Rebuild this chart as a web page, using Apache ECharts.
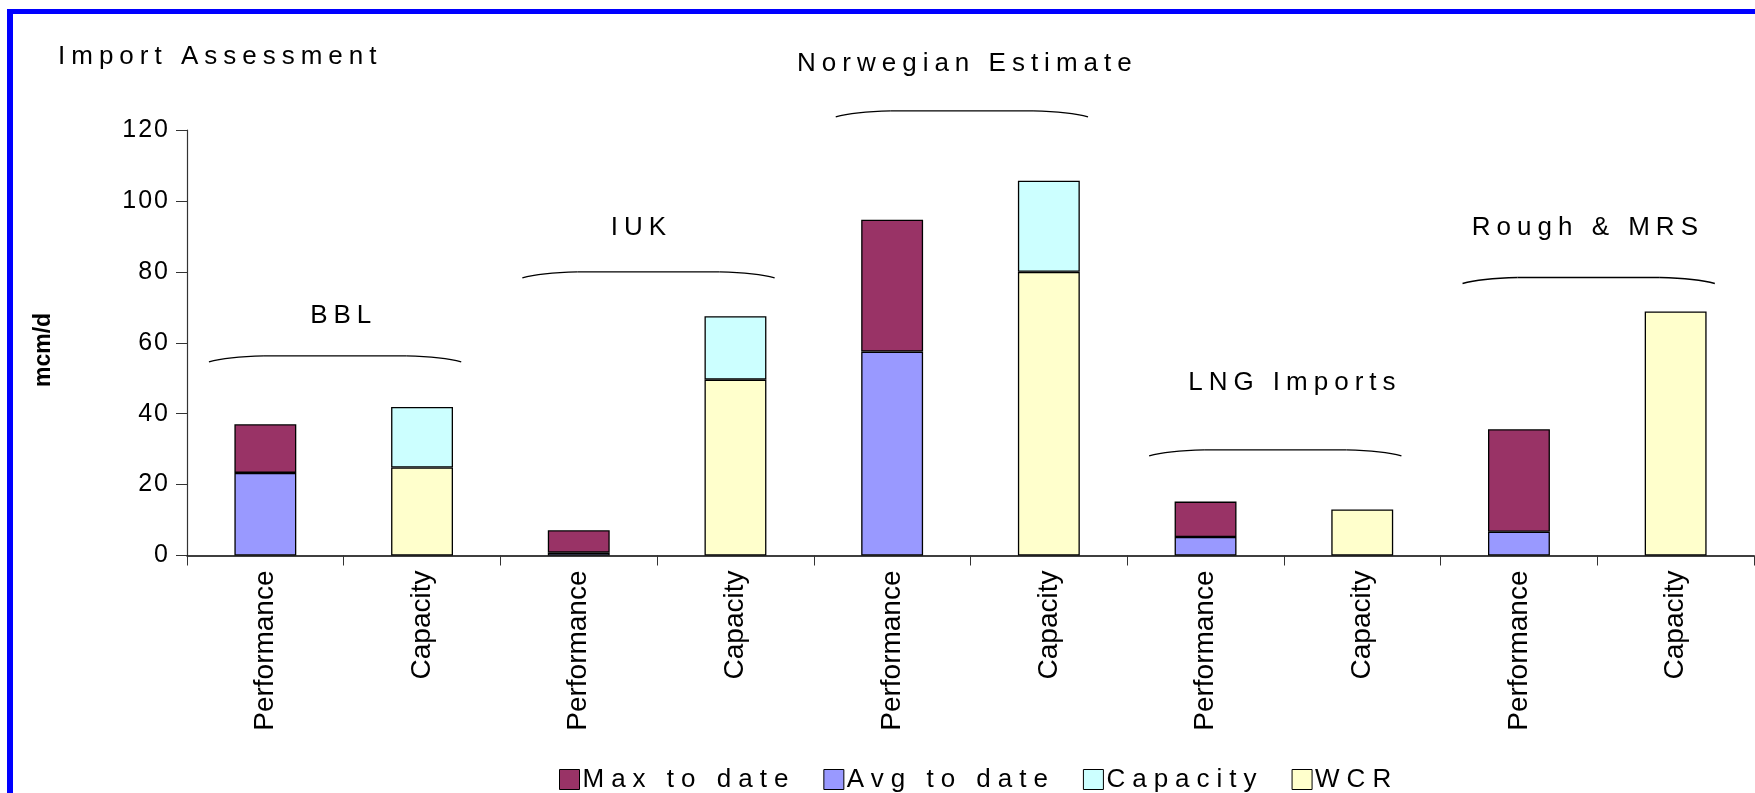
<!DOCTYPE html>
<html>
<head>
<meta charset="utf-8">
<script src="https://cdn.jsdelivr.net/npm/echarts@6/dist/echarts.min.js"></script>
<style>
html,body{margin:0;padding:0;background:#fff;}
#chart{width:1755px;height:793px;}
</style>
</head>
<body>
<div id="chart"></div>
<script>
// ---------- data ----------
const categories = ['Performance','Capacity','Performance','Capacity','Performance','Capacity','Performance','Capacity','Performance','Capacity'];
const groupNames = ['BBL','IUK','Norwegian Estimate','LNG Imports','Rough & MRS'];
const groupFirstCategory = [0, 2, 4, 6, 8];
// segment heights (mcm/d) as stacked in the picture
const avgToDate = [23.3, null, 0.8, null, 57.5, null, 5.2, null, 6.7, null];
const maxToDate = [13.7, null, 6.3, null, 37.2, null, 10.0, null, 28.9, null];
const wcr       = [null, 24.8, null, 49.6, null, 80.0, null, 13.0, null, 68.8];
const capacity  = [null, 17.1, null, 17.9, null, 25.7, null, null, null, null];
const yTicks = [0, 20, 40, 60, 80, 100, 120];
const legendNames = ['Max to date','Avg to date','Capacity','WCR'];

// annotation layout (value units on the y axis, category units for label shift)
const braceLevel = [56.3, 80.0, 125.4, 29.8, 78.4];
const labelLevel = [67.6, 92.3, 138.7, 48.7, 92.3];
const labelShift = [0, -0.1, -0.02, 0.07, -0.06];

// ---------- letter spacing via canvas (font family marker 'lsN') ----------
(function(){
  const proto = CanvasRenderingContext2D.prototype;
  if (!('letterSpacing' in proto)) return;
  const spacing = (ctx) => { const m = /ls(\d+)/.exec(ctx.font || ''); return m ? m[1] + 'px' : '0px'; };
  const f = proto.fillText, mt = proto.measureText;
  proto.fillText = function(){ const p = this.letterSpacing; this.letterSpacing = spacing(this); const r = f.apply(this, arguments); this.letterSpacing = p; return r; };
  proto.measureText = function(){ const p = this.letterSpacing; this.letterSpacing = spacing(this); const r = mt.apply(this, arguments); this.letterSpacing = p; return r; };
})();

const FAM = "'Liberation Sans', Arial, sans-serif";
const FAM_TITLE = "ls6, 'Liberation Sans', Arial, sans-serif";
const FAM_TICK = "ls2, 'Liberation Sans', Arial, sans-serif";
const FAM_GROUP = "ls6, 'Liberation Sans', Arial, sans-serif";
const FAM_LEG = "ls7, 'Liberation Sans', Arial, sans-serif";

const chart = echarts.init(document.getElementById('chart'), null, {renderer:'canvas'});

const barBase = {type:'bar', stack:'s', barWidth:'39.5%'};
const BW = 1.3;

const option = {
  animation:false,
  backgroundColor:'#fff',
  title:{text:'Import Assessment', left:53, top:36, textStyle:{fontSize:26, fontWeight:'normal', color:'#000', fontFamily:FAM_TITLE}},
  graphic:[
    {type:'rect', shape:{x:7, y:9, width:1760, height:5}, style:{fill:'#0000ff'}, silent:true},
    {type:'rect', shape:{x:7, y:9, width:6, height:790}, style:{fill:'#0000ff'}, silent:true},
    {type:'text', x:44, y:350, rotation:Math.PI/2, silent:true,
     style:{text:'mcm/d', font:"bold 23px " + FAM, fill:'#000', align:'center', verticalAlign:'middle'}}
  ],
  legend:{
    data:legendNames, left:554, top:758, icon:'rect', itemWidth:20, itemHeight:20, itemGap:28,
    itemStyle:{borderColor:'#000', borderWidth:1},
    textStyle:{fontSize:26, color:'#000', fontFamily:FAM_LEG, padding:[0,0,0,-2]}
  },
  grid:{left:187, right:1, top:130, bottom:237.5, containLabel:false},
  xAxis:{
    type:'category', data:categories,
    axisLine:{lineStyle:{color:'#000', width:1.5}},
    axisTick:{show:true, length:10, lineStyle:{color:'#333'}},
    axisLabel:{rotate:90, margin:15, fontSize:28, color:'#000', fontFamily:FAM, interval:0}
  },
  yAxis:{
    type:'value', min:yTicks[0], max:yTicks[yTicks.length-1], interval:20,
    axisLine:{show:true, lineStyle:{color:'#333', width:1.2}},
    axisTick:{show:true, length:11, lineStyle:{color:'#333'}},
    splitLine:{show:false},
    axisLabel:{fontSize:25, color:'#000', margin:17, fontFamily:FAM_TICK}
  },
  series:[
    Object.assign({}, barBase, {name:'Avg to date', data:avgToDate, itemStyle:{color:'#9999ff', borderColor:'#000', borderWidth:BW}}),
    Object.assign({}, barBase, {name:'WCR', data:wcr, itemStyle:{color:'#ffffcc', borderColor:'#000', borderWidth:BW}}),
    Object.assign({}, barBase, {name:'Max to date', data:maxToDate, itemStyle:{color:'#993366', borderColor:'#000', borderWidth:BW}}),
    Object.assign({}, barBase, {name:'Capacity', data:capacity, itemStyle:{color:'#ccffff', borderColor:'#000', borderWidth:BW}}),
    {
      type:'custom', name:'groups', silent:true, clip:false, z:5,
      encode:{x:0, y:1},
      data: groupFirstCategory.map((c, i) => [c, braceLevel[i], labelLevel[i]]),
      renderItem(params, api){
        const i = params.dataIndex;
        const c = api.value(0);
        const c0 = api.coord([c, 0])[0];
        const c1 = api.coord([c + 1, 0])[0];
        const bw = api.size([1, 0])[0];
        const yb = api.coord([c, api.value(1)])[1];
        const yl = api.coord([c, api.value(2)])[1];
        const x0 = c0 - 0.36 * bw, x1 = c1 + 0.25 * bw;
        const ls = {stroke:'#000', lineWidth:1.4, fill:null};
        return {type:'group', children:[
          {type:'bezierCurve', shape:{x1:x0, y1:yb+6, cpx1:x0+18, cpy1:yb+1, x2:x0+55, y2:yb}, style:ls},
          {type:'line', shape:{x1:x0+55, y1:yb, x2:x1-55, y2:yb}, style:ls},
          {type:'bezierCurve', shape:{x1:x1-55, y1:yb, cpx1:x1-18, cpy1:yb+1, x2:x1, y2:yb+6}, style:ls},
          {type:'text', x:(c0+c1)/2 + labelShift[i]*bw, y:yl, style:{text:groupNames[i], fill:'#000', font:"26px " + FAM_GROUP, align:'center', verticalAlign:'middle'}}
        ]};
      }
    }
  ]
};
chart.setOption(option);
</script>
</body>
</html>
